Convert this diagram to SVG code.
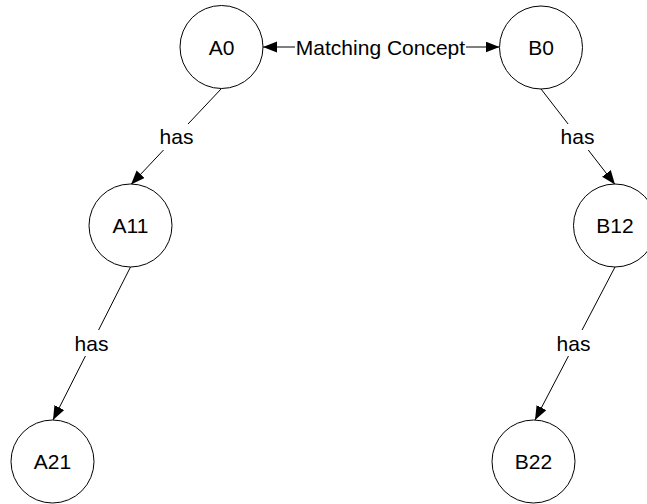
<svg xmlns="http://www.w3.org/2000/svg" width="647" height="504" viewBox="0 0 647 504">
  <style>
    .node circle { fill: #ffffff; stroke: #000000; stroke-width: 1; }
    .node text, .label text { font-family: "Liberation Sans", Arial, sans-serif; font-size: 21px; fill: #000000; text-anchor: middle; }
    .edge { fill: none; stroke: #000000; stroke-width: 1; }
    .label rect { fill: #ffffff; stroke: none; }
  </style>
  <defs>
    <marker id="arrow" markerUnits="userSpaceOnUse" markerWidth="15" markerHeight="12" refX="14" refY="5.5" orient="auto-start-reverse">
      <path d="M0,0 L14,5.5 L0,11 z" fill="#000000"/>
    </marker>
  </defs>
  <rect width="647" height="504" fill="#ffffff"/>

  <g id="connectors">
    <line class="edge" x1="263" y1="47" x2="499.5" y2="47" marker-start="url(#arrow)" marker-end="url(#arrow)"/>
    <line class="edge" x1="221.5" y1="88.5" x2="131" y2="184.5" marker-end="url(#arrow)"/>
    <line class="edge" x1="541" y1="89" x2="615" y2="184.5" marker-end="url(#arrow)"/>
    <line class="edge" x1="130.5" y1="267" x2="53" y2="420" marker-end="url(#arrow)"/>
    <line class="edge" x1="615" y1="267" x2="535" y2="420" marker-end="url(#arrow)"/>
    <g class="label">
      <rect x="295" y="35" width="171" height="24"/>
      <text x="380.5" y="54.5">Matching Concept</text>
      <rect x="159" y="124" width="35" height="26"/>
      <text x="176.5" y="144">has</text>
      <rect x="560" y="124" width="35" height="26"/>
      <text x="577.5" y="144">has</text>
      <rect x="74" y="330" width="35" height="26"/>
      <text x="91.5" y="350.5">has</text>
      <rect x="556" y="330" width="35" height="26"/>
      <text x="573.5" y="350.5">has</text>
    </g>
  </g>

  <g id="A0" class="node">
    <circle cx="221.5" cy="47" r="41.5"/>
    <text x="221.5" y="54.5">A0</text>
  </g>
  <g id="B0" class="node">
    <circle cx="541" cy="47.5" r="41.5"/>
    <text x="541" y="55">B0</text>
  </g>
  <g id="A11" class="node">
    <circle cx="130.5" cy="225.5" r="41.5"/>
    <text x="130.5" y="233">A11</text>
  </g>
  <g id="B12" class="node">
    <circle cx="615" cy="225.5" r="41.5"/>
    <text x="615" y="233">B12</text>
  </g>
  <g id="A21" class="node">
    <circle cx="52.5" cy="461.5" r="41.5"/>
    <text x="52.5" y="469">A21</text>
  </g>
  <g id="B22" class="node">
    <circle cx="533.5" cy="461.5" r="41.5"/>
    <text x="533.5" y="469">B22</text>
  </g>
</svg>
